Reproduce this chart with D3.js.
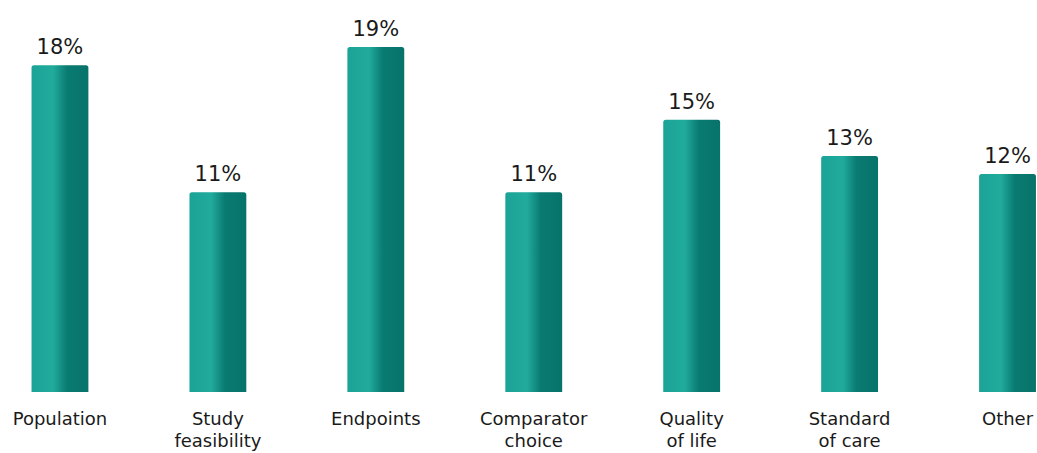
<!DOCTYPE html>
<html lang="en">
<head>
    <meta charset="UTF-8">
    <title>Bar chart</title>
    <script src="https://cdn.jsdelivr.net/npm/d3@7"></script>
    <style>
        body { margin: 0; background: #fff; }
        text { font-family: Verdana, "DejaVu Sans", sans-serif; fill: #1a1a1a; }
    </style>
</head>
<body>
<div id="chart"></div>
<script>
    var categories = ['Population', 'Study feasibility', 'Endpoints', 'Comparator choice', 'Quality of life', 'Standard of care', 'Other'];
    var labelLines = [['Population'], ['Study', 'feasibility'], ['Endpoints'], ['Comparator', 'choice'], ['Quality', 'of life'], ['Standard', 'of care'], ['Other']];
    var values = [18, 11, 19, 11, 15, 13, 12];

    var width = 1037, height = 453;

    var svg = d3.select('#chart').append('svg')
        .attr('width', width)
        .attr('height', height);

    var grad = svg.append('defs').append('linearGradient')
        .attr('id', 'barGrad')
        .attr('x1', '0%').attr('x2', '100%').attr('y1', '0%').attr('y2', '0%');
    [['0%', '#1aa396'], ['38%', '#21ab9d'], ['62%', '#0a7b72'], ['100%', '#07736a']].forEach(function (s) {
        grad.append('stop').attr('offset', s[0]).attr('stop-color', s[1]);
    });

    var x = d3.scaleBand()
        .domain(categories)
        .range([-19, 1086.5])
        .paddingInner(0.64)
        .paddingOuter(0.32);

    var y = d3.scaleLinear()
        .domain([0, 19])
        .range([392, 47]);

    var r = 2.5;
    function barPath(d, i) {
        var x0 = x(categories[i]), x1 = x0 + x.bandwidth(), y0 = y(d), yb = y(0);
        return 'M' + x0 + ',' + yb + 'V' + (y0 + r) + 'Q' + x0 + ',' + y0 + ' ' + (x0 + r) + ',' + y0 +
            'H' + (x1 - r) + 'Q' + x1 + ',' + y0 + ' ' + x1 + ',' + (y0 + r) + 'V' + yb + 'Z';
    }

    svg.selectAll('path.bar')
        .data(values)
        .join('path')
        .attr('class', 'bar')
        .attr('d', barPath)
        .attr('fill', 'url(#barGrad)');

    svg.selectAll('text.value')
        .data(values)
        .join('text')
        .attr('class', 'value')
        .attr('x', function (d, i) { return x(categories[i]) + x.bandwidth() / 2; })
        .attr('y', function (d) { return y(d) - 11; })
        .attr('text-anchor', 'middle')
        .attr('font-size', '21px')
        .text(function (d) { return d + '%'; });

    var cat = svg.selectAll('text.cat')
        .data(labelLines)
        .join('text')
        .attr('class', 'cat')
        .attr('text-anchor', 'middle')
        .attr('font-size', '18px');

    cat.selectAll('tspan')
        .data(function (d, i) { return d.map(function (l) { return {l: l, i: i}; }); })
        .join('tspan')
        .attr('x', function (d) { return x(categories[d.i]) + x.bandwidth() / 2; })
        .attr('y', function (d, j) { return 425 + j * 22; })
        .text(function (d) { return d.l; });
</script>
</body>
</html>
